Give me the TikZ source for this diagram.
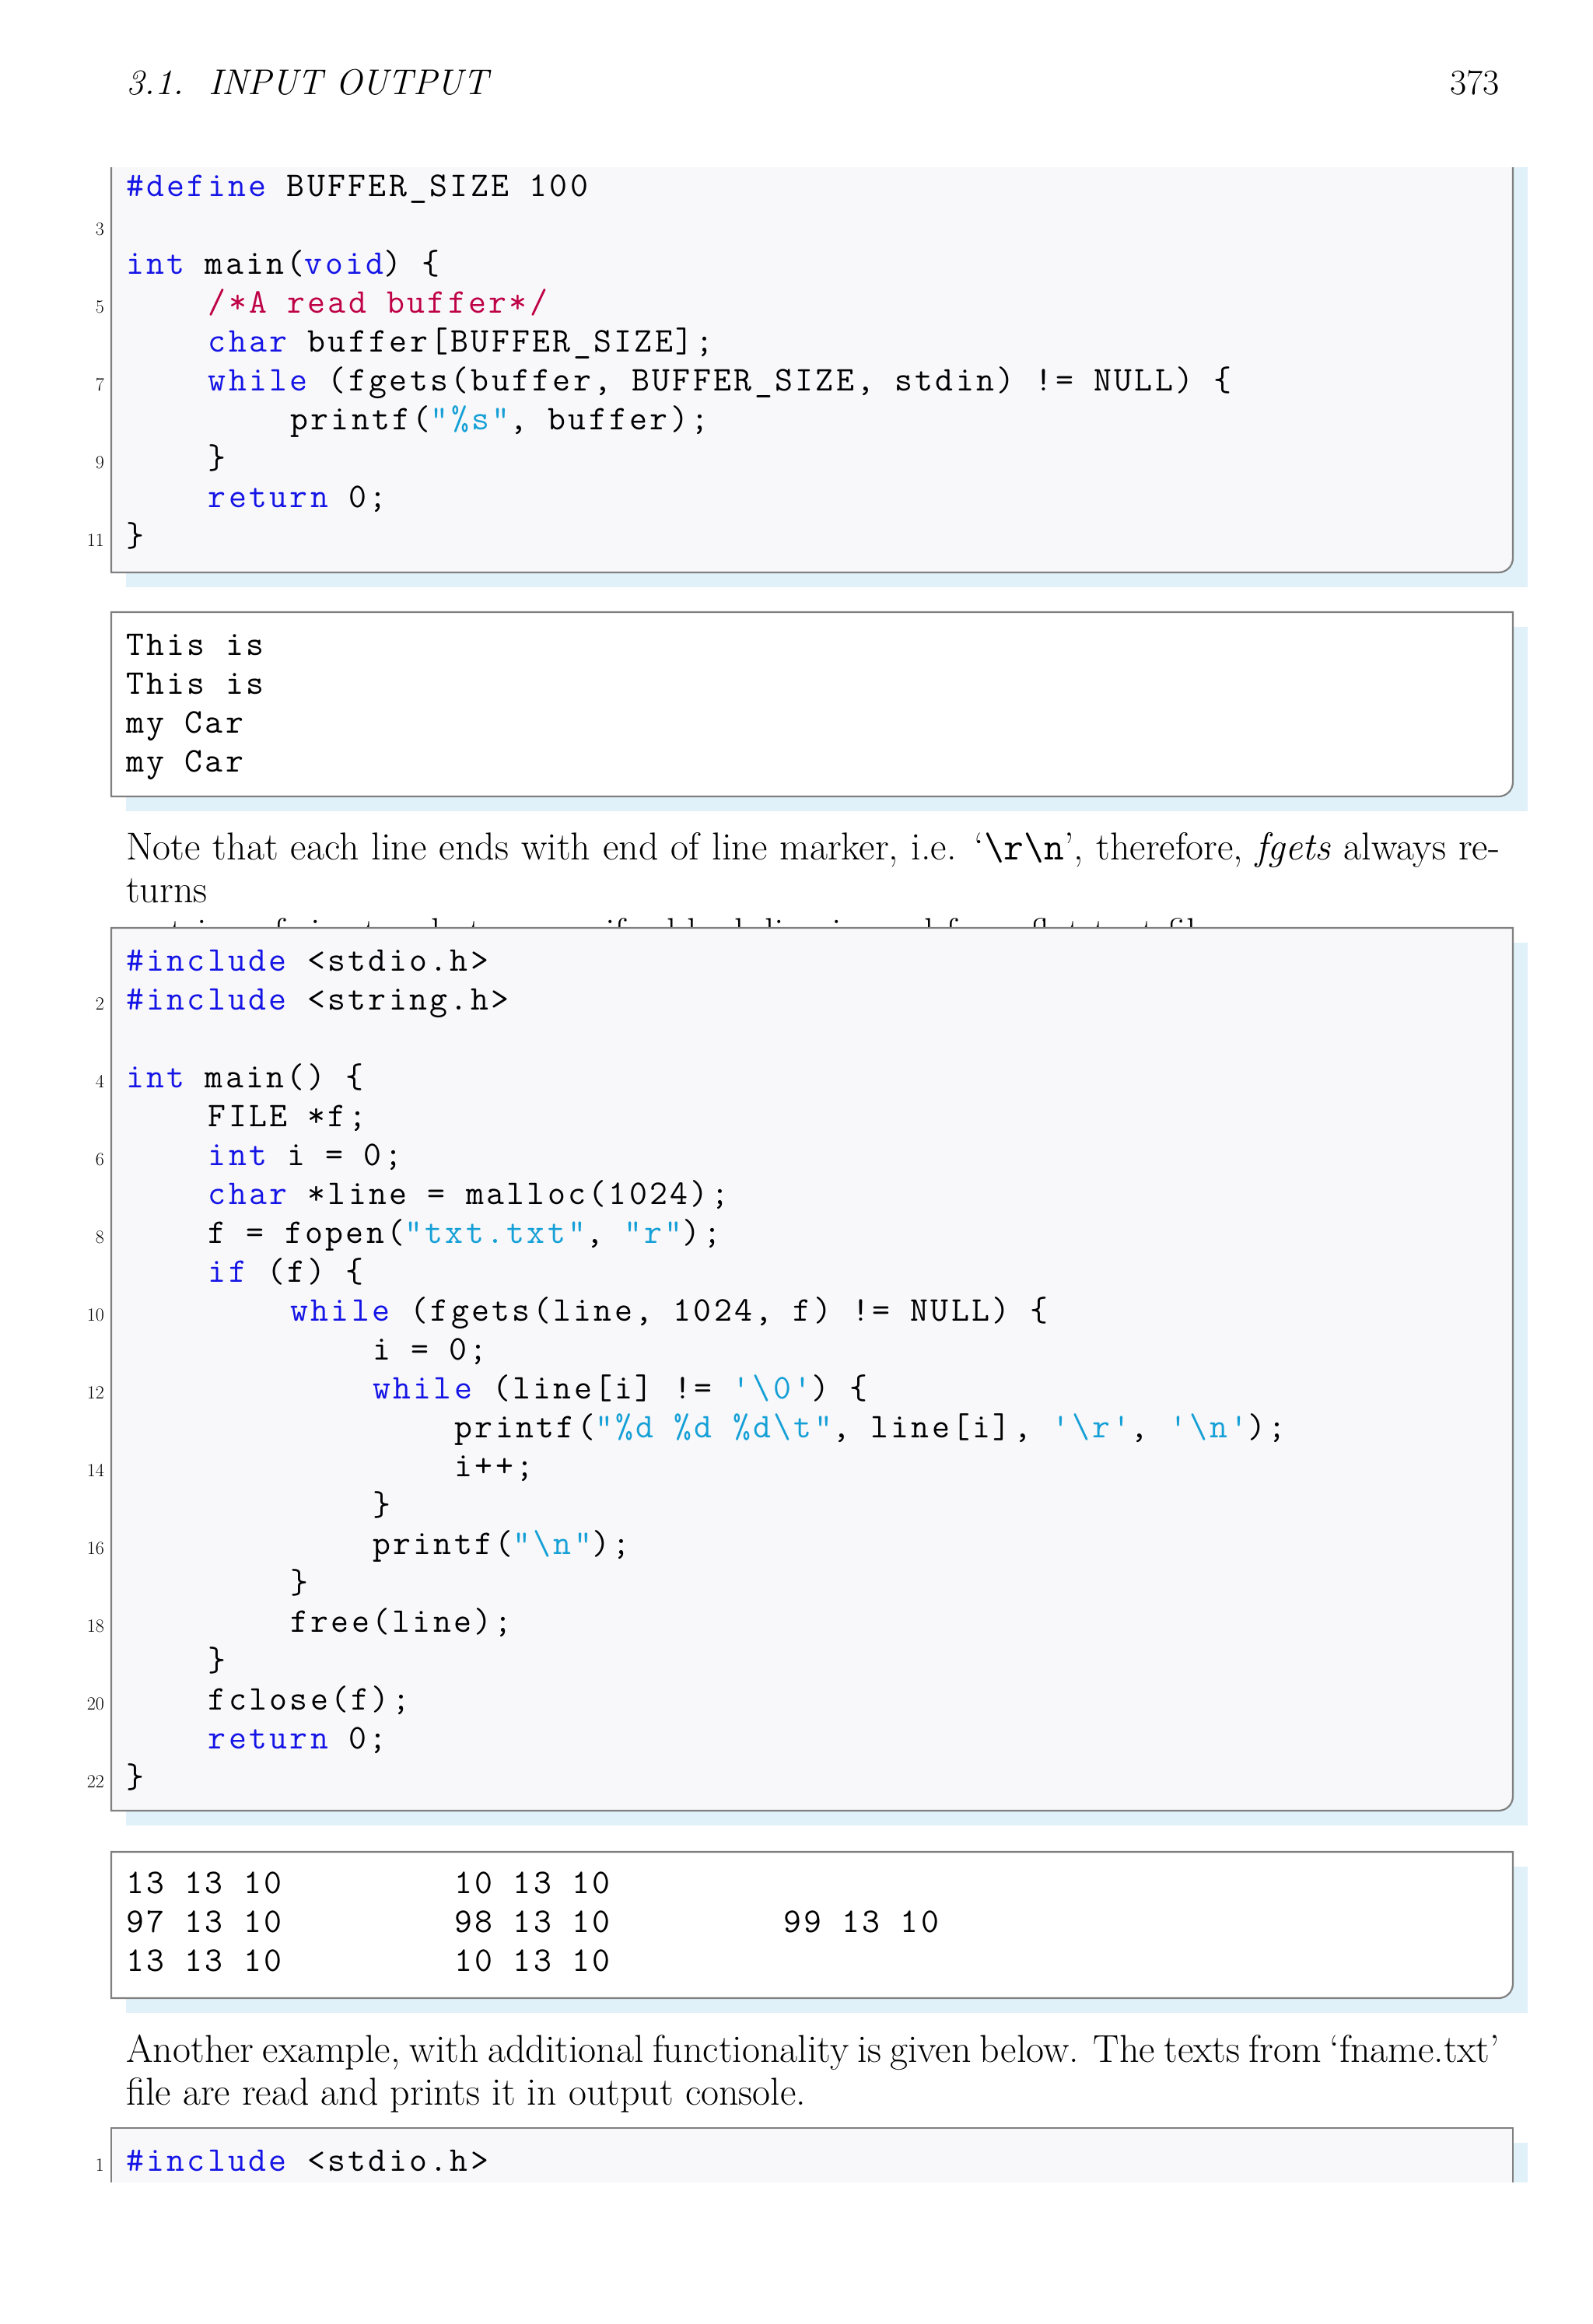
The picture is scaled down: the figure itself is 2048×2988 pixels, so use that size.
\documentclass[tikz,border=0pt]{standalone}
\usepackage{fontspec}
\setmonofont{Latin Modern Mono}[LetterSpace=7.5]
\definecolor{kw}{RGB}{20,20,230}
\definecolor{cm}{RGB}{190,0,70}
\definecolor{st}{RGB}{20,160,215}
\definecolor{shd}{RGB}{224,241,250}
\definecolor{bx}{RGB}{248,247,249}
\definecolor{bd}{RGB}{128,128,128}
\newcommand{\K}[1]{{\color{kw}#1}}
\newcommand{\C}[1]{{\color{cm}#1}}
\newcommand{\St}[1]{{\color{st}#1}}
\tikzset{codetxt/.style={anchor=base west,inner sep=0pt,font=\fontsize{44.5}{50}\selectfont\ttfamily},
 lnum/.style={anchor=base east,inner sep=0pt,font=\fontsize{24}{26}\selectfont\rmfamily},
 bodytxt/.style={anchor=base west,inner sep=0pt,text width=1766pt,align=justify,font=\fontsize{50}{55}\selectfont\rmfamily},
 frame/.style={draw=bd,line width=2.2pt}}
\newcommand{\cl}[4]{\node[codetxt] (#1) at ({162+#3*26.4},#2) {#4};}
\newcommand{\numl}[3]{\node[lnum] (#1) at (134,#2) {#3};}
% closed box with rounded bottom-right corner: top, bottom
\newcommand{\cbox}[3]{%
 \fill[shd] (162,#1+19) rectangle (1964,#2+19);
 \fill[#3] (143,#1) -- (1945,#1) -- (1945,#2-19) .. controls (1945,#2-8) and (1937,#2) .. (1926,#2) -- (143,#2) -- cycle;
 \draw[frame] (143,#1) -- (1945,#1) -- (1945,#2-19) .. controls (1945,#2-8) and (1937,#2) .. (1926,#2) -- (143,#2) -- cycle;}
\begin{document}
\begin{tikzpicture}[x=1pt,y=-1pt]
\fill[white] (0,0) rectangle (2048,2988);
\useasboundingbox (0,0) rectangle (2048,2988);
% header
\node[anchor=base west,inner sep=0pt,font=\fontsize{46}{55}\selectfont\itshape] (hd) at (162,121) {3.1.\ \ INPUT OUTPUT};
\node[anchor=base east,inner sep=0pt,font=\fontsize{46}{55}\selectfont] (pg) at (1928,121) {373};
% box1
\fill[shd] (162,215) rectangle (1964,755);
\fill[bx] (143,215) -- (1945,215) -- (1945,717) .. controls (1945,728) and (1937,736) .. (1926,736) -- (143,736) -- cycle;
\draw[frame] (143,215) -- (143,736) -- (1926,736) .. controls (1937,736) and (1945,728) .. (1945,717) -- (1945,215);
\cl{a1}{252}{0}{\K{\#define} BUFFER\_SIZE 100}
\cl{a2}{352}{0}{\K{int} main(\K{void}) \{}
\cl{a3}{402}{4}{\C{/*A read buffer*/}}
\cl{a4}{452}{4}{\K{char} buffer[BUFFER\_SIZE];}
\cl{a5}{502}{4}{\K{while} (fgets(buffer, BUFFER\_SIZE, stdin) != NULL) \{}
\cl{a6}{552}{8}{printf(\St{"\%s"}, buffer);}
\cl{a7}{602}{4}{\}}
\cl{a8}{652}{4}{\K{return} 0;}
\cl{a9}{702}{0}{\}}
\numl{n3}{302}{3}\numl{n5}{402}{5}\numl{n7}{502}{7}\numl{n9}{602}{9}\numl{n11}{702}{11}
% box2
\cbox{787}{1024}{white}
\cl{b1}{842}{0}{This is}
\cl{b2}{892}{0}{This is}
\cl{b3}{942}{0}{my Car}
\cl{b4}{992}{0}{my Car}
% paragraph 1
\node[bodytxt] (p1) at (162,1105) {Note that each line ends with end of line marker, i.e. `{\ttfamily\addfontfeature{LetterSpace=0}\textbackslash r\textbackslash n}', therefore, \textit{fgets} always returns\linebreak a string of size two bytes even if a blank line is read from flat text file.};
% box3
\cbox{1193}{2328}{bx}
\cl{c1}{1248}{0}{\K{\#include} <stdio.h>}
\cl{c2}{1298}{0}{\K{\#include} <string.h>}
\cl{c4}{1398}{0}{\K{int} main() \{}
\cl{c5}{1448}{4}{FILE *f;}
\cl{c6}{1498}{4}{\K{int} i = 0;}
\cl{c7}{1548}{4}{\K{char} *line = malloc(1024);}
\cl{c8}{1598}{4}{f = fopen(\St{"txt.txt"}, \St{"r"});}
\cl{c9}{1648}{4}{\K{if} (f) \{}
\cl{c10}{1698}{8}{\K{while} (fgets(line, 1024, f) != NULL) \{}
\cl{c11}{1748}{12}{i = 0;}
\cl{c12}{1798}{12}{\K{while} (line[i] != \St{'\textbackslash0'}) \{}
\cl{c13}{1848}{16}{printf(\St{"\%d \%d \%d\textbackslash t"}, line[i], \St{'\textbackslash r'}, \St{'\textbackslash n'});}
\cl{c14}{1898}{16}{i++;}
\cl{c15}{1948}{12}{\}}
\cl{c16}{1998}{12}{printf(\St{"\textbackslash n"});}
\cl{c17}{2048}{8}{\}}
\cl{c18}{2098}{8}{free(line);}
\cl{c19}{2148}{4}{\}}
\cl{c20}{2198}{4}{fclose(f);}
\cl{c21}{2248}{4}{\K{return} 0;}
\cl{c22}{2298}{0}{\}}
\numl{m2}{1298}{2}\numl{m4}{1398}{4}\numl{m6}{1498}{6}\numl{m8}{1598}{8}\numl{m10}{1698}{10}
\numl{m12}{1798}{12}\numl{m14}{1898}{14}\numl{m16}{1998}{16}\numl{m18}{2098}{18}\numl{m20}{2198}{20}\numl{m22}{2298}{22}
% box4
\cbox{2381}{2569}{white}
\cl{d1}{2434}{0}{13 13 10}
\cl{d2}{2434}{16}{10 13 10}
\cl{d3}{2484}{0}{97 13 10}
\cl{d4}{2484}{16}{98 13 10}
\cl{d5}{2484}{32}{99 13 10}
\cl{d6}{2534}{0}{13 13 10}
\cl{d7}{2534}{16}{10 13 10}
% paragraph 2
\node[bodytxt] (p2) at (162,2651) {Another example, with additional functionality is given below. The texts from `fname.txt'\linebreak file are read and prints it in output console.};
% box5
\fill[shd] (162,2755) rectangle (1964,2806);
\fill[bx] (143,2736) rectangle (1945,2806);
\draw[frame] (143,2806) -- (143,2736) -- (1945,2736) -- (1945,2806);
\cl{e1}{2791}{0}{\K{\#include} <stdio.h>}
\numl{k1}{2791}{1}
\end{tikzpicture}
\end{document}
